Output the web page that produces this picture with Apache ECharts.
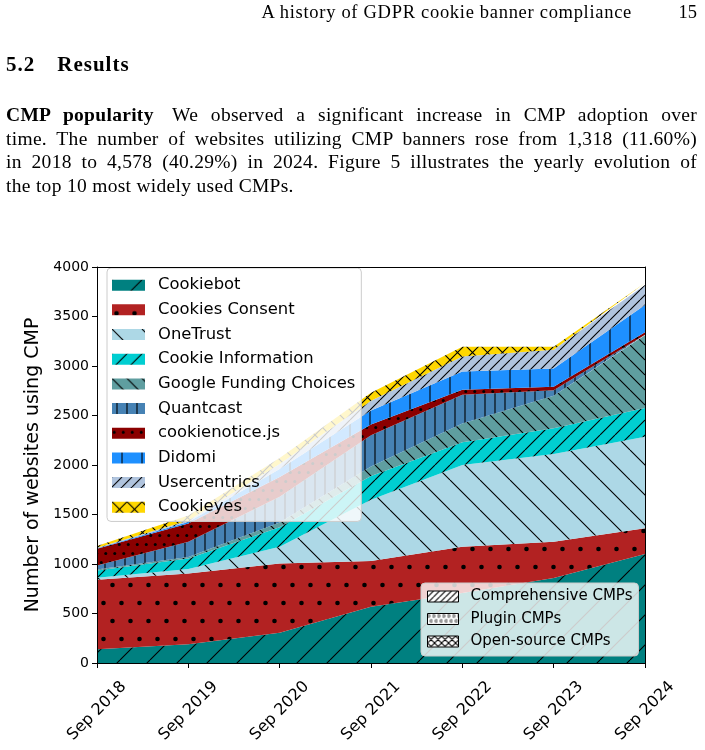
<!DOCTYPE html>
<html>
<head>
<meta charset="utf-8">
<script src="https://cdn.jsdelivr.net/npm/echarts/dist/echarts.min.js"></script>
<style>
  body { margin: 0; background: #fff; }
  #chart { position: absolute; left: 0; top: 0; width: 705px; height: 750px; }
  .txt { position: absolute; font-family: "Liberation Serif", "DejaVu Serif", serif; color: #000; }
  .hdr { top: 2px; right: 73px; font-size: 18.5px; letter-spacing: 0.7px; }
  .pno { top: 2px; right: 8px; font-size: 18.5px; }
  .sec { top: 52px; left: 6px; font-size: 21px; font-weight: bold; letter-spacing: 1px; }
  .par { left: 6px; width: 691px; font-size: 19.5px; letter-spacing: 0.3px; }
  .par div { height: 23.6px; line-height: 23.6px; text-align: justify; text-align-last: justify; }
  .par div.last { text-align-last: left; }
</style>
</head>
<body>
<div id="chart"></div>
<div class="txt hdr">A history of GDPR cookie banner compliance</div>
<div class="txt pno">15</div>
<div class="txt sec">5.2<span style="margin-left:22px">Results</span></div>
<div class="txt par" style="top:103px">
  <div><b>CMP popularity</b><span style="margin-left:6px"></span> We observed a significant increase in CMP adoption over</div>
  <div>time. The number of websites utilizing CMP banners rose from 1,318 (11.60%)</div>
  <div>in 2018 to 4,578 (40.29%) in 2024. Figure 5 illustrates the yearly evolution of</div>
  <div class="last">the top 10 most widely used CMPs.</div>
</div>
<script>
// yearly counts (bottom layer first)
var years = ['Sep 2018', 'Sep 2019', 'Sep 2020', 'Sep 2021', 'Sep 2022', 'Sep 2023', 'Sep 2024'];
var yTicks = [0, 500, 1000, 1500, 2000, 2500, 3000, 3500, 4000];

var cookiebot            = [140, 190, 305, 568, 707, 859, 1100];
var cookiesConsent       = [700, 715, 700, 462, 468, 366, 260];
var oneTrust             = [20, 45, 170, 620, 825, 885, 926];
var cookieInformation    = [75, 105, 195, 240, 230, 260, 290];
var googleFundingChoices = [10, 15, 50, 95, 190, 330, 734];
var quantcast            = [40, 155, 260, 315, 290, 55, 5];
var cookienoticeJs       = [170, 185, 200, 110, 50, 35, 25];
var didomi               = [5, 15, 80, 140, 185, 185, 276];
var usercentrics         = [3, 15, 50, 100, 150, 190, 202];
var cookieyes            = [20, 50, 60, 80, 100, 30, 20];

var cmpNames = ['Cookiebot', 'Cookies Consent', 'OneTrust', 'Cookie Information', 'Google Funding Choices',
                'Quantcast', 'cookienotice.js', 'Didomi', 'Usercentrics', 'Cookieyes'];
var cmpValues = [cookiebot, cookiesConsent, oneTrust, cookieInformation, googleFundingChoices,
                 quantcast, cookienoticeJs, didomi, usercentrics, cookieyes];
var typeNames = ['Comprehensive CMPs', 'Plugin CMPs', 'Open-source CMPs'];

// hatch tiles drawn on small canvases, used as repeat patterns
function hatch(bg, kind, p, r) {
    var c = document.createElement('canvas');
    var w = p, h = (kind == 'dots' || kind == 'rings') ? 2 * p : p;
    c.width = w; c.height = h;
    var g = c.getContext('2d');
    g.fillStyle = bg;
    g.fillRect(0, 0, w, h);
    g.strokeStyle = '#000';
    g.fillStyle = '#000';
    g.lineWidth = 1.1;
    g.beginPath();
    if (kind == '/' || kind == 'x') {
        for (var k = -1; k <= 1; k++) { g.moveTo(k * p, p); g.lineTo(k * p + p, 0); }
    }
    if (kind == '\\' || kind == 'x') {
        for (var k2 = -1; k2 <= 1; k2++) { g.moveTo(k2 * p, 0); g.lineTo(k2 * p + p, p); }
    }
    if (kind == '|') { g.moveTo(p / 2, 0); g.lineTo(p / 2, h); }
    g.stroke();
    if (kind == 'dots' || kind == 'rings') {
        var pts = [[p / 4, p / 2], [3 * p / 4, 3 * p / 2]];
        for (var i = 0; i < pts.length; i++) {
            g.beginPath();
            g.arc(pts[i][0], pts[i][1], r, 0, Math.PI * 2);
            if (kind == 'dots') g.fill(); else { g.lineWidth = 0.8; g.stroke(); }
        }
    }
    return { image: c, repeat: 'repeat' };
}

var fills = [
    hatch('#008080', '/', 30),
    hatch('#b22222', 'dots', 18, 2.3),
    hatch('#add8e6', '\\', 30),
    hatch('#00ced1', '/', 15),
    hatch('#5f9ea0', '\\', 15),
    hatch('#4682b4', '|', 10),
    hatch('#8b0000', 'dots', 9, 1.5),
    hatch('#1e90ff', '|', 20),
    hatch('#b0c4de', '/', 10),
    hatch('#ffd700', 'x', 15)
];
var typeFills = [
    hatch('#ffffff', '/', 6),
    hatch('#ffffff', 'rings', 5, 1.3),
    hatch('#ffffff', 'x', 7)
];

var series = [];
var legendMain = [];
for (var i = 0; i < cmpNames.length; i++) {
    series.push({
        name: cmpNames[i],
        type: 'line',
        stack: 'cmp',
        data: cmpValues[i],
        showSymbol: false,
        silent: true,
        color: fills[i],
        lineStyle: { width: 0 },
        areaStyle: { color: fills[i], opacity: 1 }
    });
    legendMain.push({ name: cmpNames[i], itemStyle: { color: fills[i], borderWidth: 0 } });
}
var legendType = [];
for (var j = 0; j < typeNames.length; j++) {
    series.push({ name: typeNames[j], type: 'line', data: [], color: typeFills[j] });
    legendType.push({ name: typeNames[j], itemStyle: { color: typeFills[j], borderColor: '#000', borderWidth: 1 } });
}

var font = 'DejaVu Sans';
var chart = echarts.init(document.getElementById('chart'), null, { renderer: 'canvas' });
chart.setOption({
    animation: false,
    textStyle: { fontFamily: font },
    grid: { left: 97, top: 267, width: 548, height: 396, containLabel: false },
    legend: [{
        data: legendMain,
        orient: 'vertical',
        left: 107, top: 268,
        icon: 'rect',
        itemWidth: 33, itemHeight: 11,
        itemGap: 8.27,
        padding: [9, 6, 6, 5],
        selectedMode: false,
        backgroundColor: 'rgba(255,255,255,0.8)',
        borderColor: '#cccccc', borderWidth: 1, borderRadius: 4,
        textStyle: { fontSize: 16.4, color: '#000', lineHeight: 16.4, padding: [0, 0, 0, 8], fontFamily: font }
    }, {
        data: legendType,
        orient: 'vertical',
        left: 421, top: 583,
        icon: 'rect',
        itemWidth: 31, itemHeight: 11,
        itemGap: 7.5,
        padding: [6, 6, 7, 6],
        selectedMode: false,
        backgroundColor: 'rgba(255,255,255,0.8)',
        borderColor: '#cccccc', borderWidth: 1, borderRadius: 4,
        textStyle: { fontSize: 15, color: '#000', lineHeight: 15, padding: [0, 0, 0, 7], fontFamily: font }
    }],
    xAxis: [{
        type: 'category',
        data: years,
        boundaryGap: false,
        z: 5,
        axisLine: { show: true, onZero: false, lineStyle: { color: '#000', width: 1 } },
        axisTick: { show: true, length: 5, lineStyle: { color: '#000' } },
        axisLabel: { rotate: 45, align: 'center', verticalAlign: 'middle', margin: 48, fontSize: 16, color: '#000', fontFamily: font },
        splitLine: { show: false }
    }, {
        type: 'category',
        data: years,
        position: 'top',
        boundaryGap: false,
        z: 5,
        axisLine: { show: true, onZero: false, lineStyle: { color: '#000', width: 1 } },
        axisTick: { show: false },
        axisLabel: { show: false },
        splitLine: { show: false }
    }],
    yAxis: [{
        type: 'value',
        min: yTicks[0], max: yTicks[yTicks.length - 1], interval: 500,
        z: 5,
        name: 'Number of websites using CMP',
        nameLocation: 'middle',
        nameGap: 54,
        nameTextStyle: { fontSize: 19, color: '#000', fontFamily: font },
        axisLine: { show: true, onZero: false, lineStyle: { color: '#000', width: 1 } },
        axisTick: { show: true, length: 5, lineStyle: { color: '#000' } },
        axisLabel: { fontSize: 14, color: '#000', margin: 8, fontFamily: font,
                     formatter: function (v) { return String(v); } },
        splitLine: { show: false }
    }, {
        type: 'value',
        min: yTicks[0], max: yTicks[yTicks.length - 1], interval: 500,
        position: 'right',
        z: 5,
        axisLine: { show: true, onZero: false, lineStyle: { color: '#000', width: 1 } },
        axisTick: { show: false },
        axisLabel: { show: false },
        splitLine: { show: false }
    }],
    series: series
});
</script>
</body>
</html>
